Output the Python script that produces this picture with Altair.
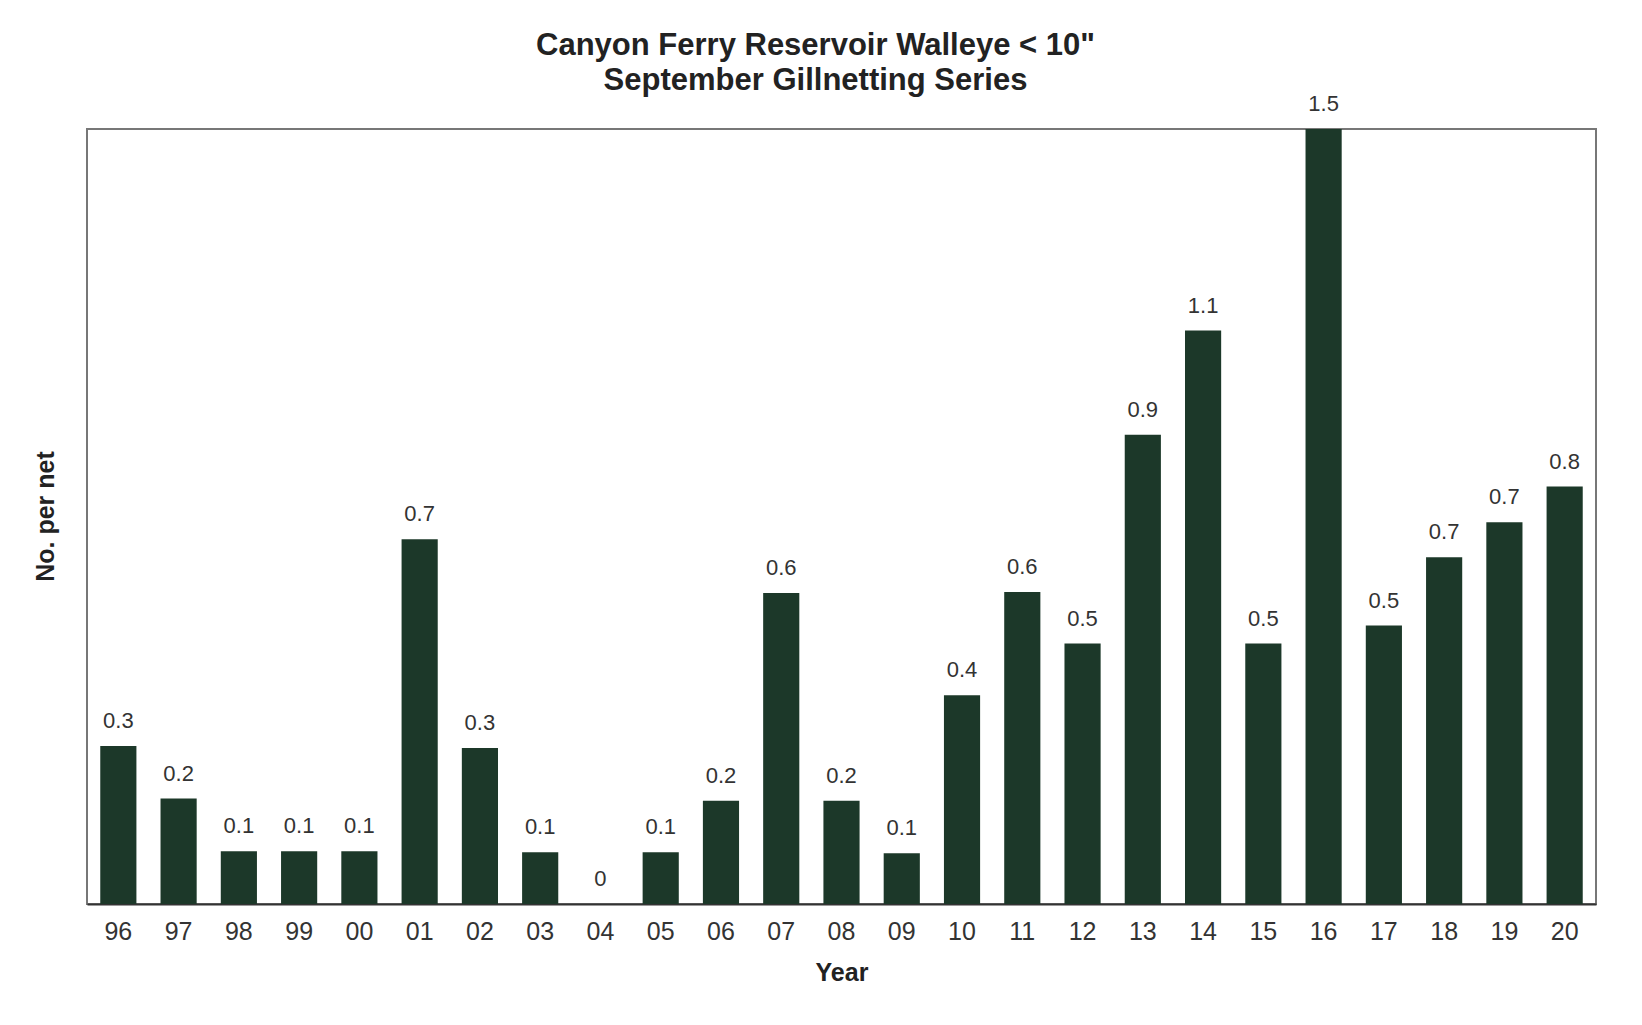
import altair as alt
import pandas as pd

years = ["96", "97", "98", "99", "00", "01", "02", "03", "04", "05", "06", "07", "08",
         "09", "10", "11", "12", "13", "14", "15", "16", "17", "18", "19", "20"]
per_net = [0.306, 0.204, 0.102, 0.102, 0.102, 0.706, 0.302, 0.100, 0.0, 0.100, 0.200,
           0.602, 0.200, 0.098, 0.404, 0.604, 0.504, 0.908, 1.110, 0.504, 1.500, 0.539,
           0.671, 0.739, 0.808]

df = pd.DataFrame({"Year": years, "Value": per_net})

FONT = "Liberation Sans"
BAR = "#1c3829"

x = alt.X("Year:N", sort=None,
          scale=alt.Scale(paddingInner=0.4, paddingOuter=0.22),
          axis=alt.Axis(title="Year", labelAngle=0, ticks=False, domain=True,
                        domainColor="#333333", domainWidth=2,
                        labelFont=FONT, labelFontSize=25, labelColor="#333333",
                        labelPadding=15, titleFont=FONT, titleFontSize=25,
                        titleFontWeight="bold", titleColor="#222222", titlePadding=16))
y = alt.Y("Value:Q", scale=alt.Scale(domain=[0, 1.5], nice=False, zero=True),
          axis=alt.Axis(title="No. per net", labels=False, ticks=False, grid=False,
                        domain=False, titleFont=FONT, titleFontSize=25,
                        titleFontWeight="bold", titleColor="#222222",
                        titleAngle=270, titleAlign="center", titleBaseline="middle",
                        titleX=-42, titleY=387))

bars = alt.Chart(df).mark_bar(color=BAR).encode(x=x, y=y)
labels = alt.Chart(df).mark_text(font=FONT, fontSize=22, color="#333333",
                                 baseline="alphabetic", dy=-18).encode(
    x=alt.X("Year:N", sort=None), y="Value:Q",
    text=alt.Text("Value:Q", format=".1~f"))

chart = alt.layer(bars, labels).properties(
    width=1509, height=775,
    autosize=alt.AutoSizeParams(type="none"),
    padding={"left": 79, "top": 121, "right": 30, "bottom": 90},
    title=alt.TitleParams(
        text=["Canyon Ferry Reservoir Walleye < 10\"", "September Gillnetting Series"],
        font=FONT, fontSize=31, fontWeight="bold", color="#222222",
        anchor="middle", dx=-26, lineHeight=35, offset=-4),
    background="white",
).configure_view(stroke="#777777", strokeWidth=2)

chart.save("out.html", embed_options={"renderer": "svg", "actions": False})
